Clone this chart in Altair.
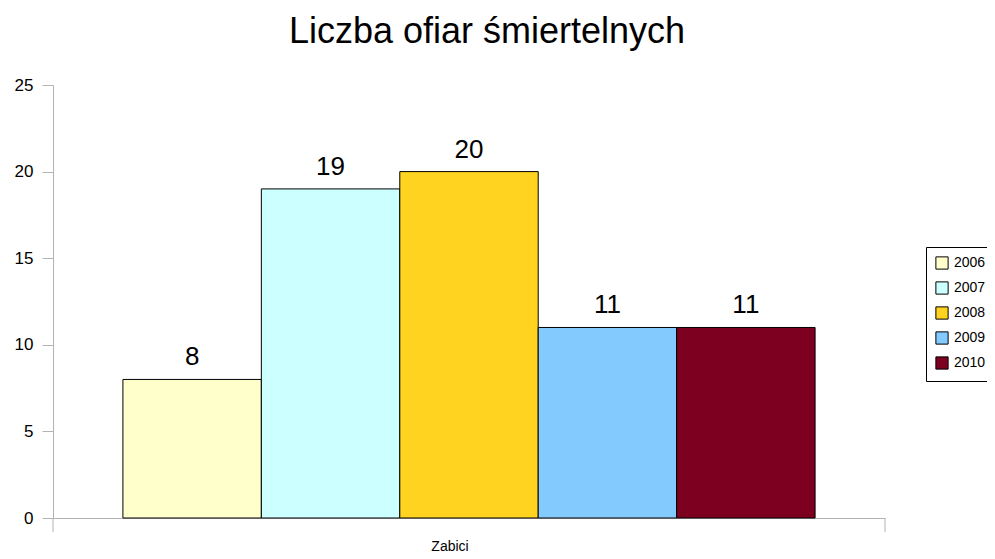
import altair as alt
import pandas as pd

years = ["2006", "2007", "2008", "2009", "2010"]
values = [8, 19, 20, 11, 11]
colors = ["#FFFFCC", "#CCFFFF", "#FFD320", "#83CAFF", "#7E0021"]
category = "Zabici"

df = pd.DataFrame({"cat": [category] * len(years), "year": years, "value": values})

W, H = 832, 433
FONT = "Liberation Sans"

x = alt.X("cat:N", title=None,
          scale=alt.Scale(paddingInner=0, paddingOuter=0.101),
          axis=alt.Axis(labelAngle=0, ticks=False, labelPadding=21, labelOffset=-19))
xo = alt.XOffset("year:N", scale=alt.Scale(paddingInner=0, paddingOuter=0))
y = alt.Y("value:Q", title=None,
          scale=alt.Scale(domain=[0, 25]),
          axis=alt.Axis(values=[0, 5, 10, 15, 20, 25], grid=False, tickSize=11,
                        labelPadding=9))

bars = alt.Chart(df).mark_bar(stroke="black", strokeWidth=1).encode(
    x=x, xOffset=xo, y=y,
    color=alt.Color("year:N", scale=alt.Scale(domain=years, range=colors),
                    legend=alt.Legend(title=None, orient="none", legendX=873, legendY=162,
                                      symbolType="square", symbolSize=150,
                                      symbolStrokeColor="black", symbolStrokeWidth=1,
                                      labelFont=FONT, labelFontSize=14, labelColor="black",
                                      rowPadding=7, strokeColor="black", padding=9,
                                      labelOffset=5))
)

labels = alt.Chart(df).mark_text(baseline="alphabetic", dy=-14, font=FONT, fontSize=26,
                                 color="black").encode(
    x=x, xOffset=xo, y=y,
    text=alt.Text("value:Q")
)

edge_l = alt.Chart(pd.DataFrame({"e": [0]})).mark_rule(color="#b3b3b3").encode(
    x=alt.value(0), y=alt.value(H), y2=alt.value(H + 14)
)
edge_r = alt.Chart(pd.DataFrame({"e": [0]})).mark_rule(color="#b3b3b3").encode(
    x=alt.value(W), y=alt.value(H), y2=alt.value(H + 14)
)

chart = alt.layer(bars, labels, edge_l, edge_r).properties(
    width=W, height=H,
    autosize=alt.AutoSizeParams(type="none"),
    padding={"left": 45, "top": 77, "right": 102, "bottom": 40},
    title=alt.Title("Liczba ofiar śmiertelnych", font=FONT, fontSize=36,
                    fontWeight="normal", color="black", anchor="middle",
                    dx=18, offset=25),
).configure_view(stroke=None).configure_axis(
    domainColor="#b3b3b3", tickColor="#b3b3b3",
    labelFont=FONT, labelColor="black"
).configure_axisY(labelFontSize=17).configure_axisX(labelFontSize=14)

chart.save("out.html", embed_options={"renderer": "svg", "actions": False})
